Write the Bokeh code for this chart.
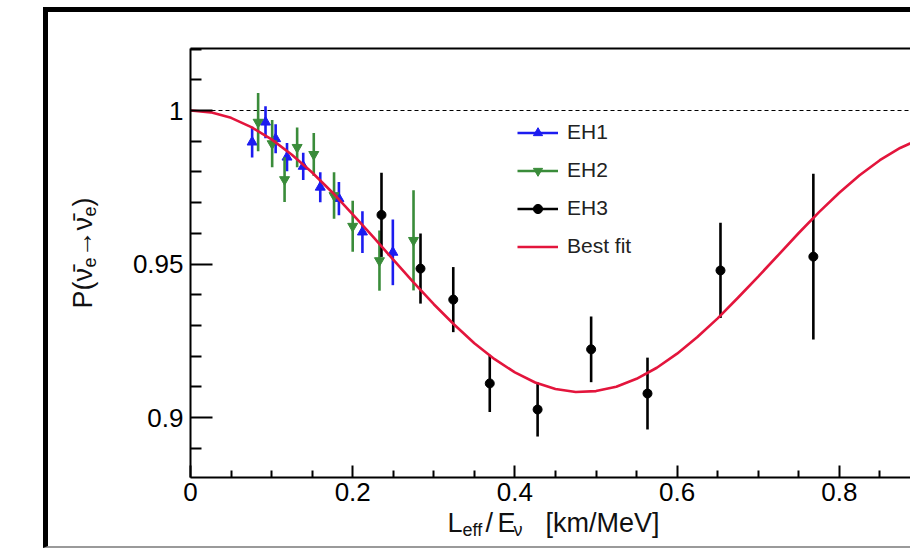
import math
from bokeh.plotting import figure
from bokeh.models import (ColumnDataSource, FixedTicker, Legend, LegendItem, Label,
                          LinearAxis)
from bokeh.embed import file_html
from bokeh.resources import INLINE

# ---------------- data ----------------
eh1_x = [0.076, 0.0925, 0.105, 0.119, 0.139, 0.160, 0.183, 0.212, 0.2495]
eh1_y = [0.9897, 0.9962, 0.9908, 0.9848, 0.9818, 0.9750, 0.9713, 0.9604, 0.9538]
eh1_err = [0.0050, 0.0052, 0.0047, 0.0046, 0.0044, 0.0049, 0.0054, 0.0068, 0.0107]

eh2_x = [0.0834, 0.1007, 0.116, 0.1315, 0.152, 0.177, 0.200, 0.233, 0.275]
eh2_y = [0.9962, 0.9892, 0.9775, 0.9880, 0.9857, 0.9723, 0.9623, 0.9511, 0.9577]
eh2_err = [0.0095, 0.0077, 0.0073, 0.0065, 0.0070, 0.0076, 0.0083, 0.0098, 0.0163]

eh3_x = [0.2355, 0.2836, 0.324, 0.369, 0.428, 0.494, 0.5635, 0.6535, 0.768]
eh3_y = [0.9660, 0.9485, 0.9384, 0.9111, 0.9026, 0.9222, 0.9078, 0.9479, 0.9524]
eh3_err = [0.0137, 0.0114, 0.0106, 0.0093, 0.0088, 0.0107, 0.0117, 0.0155, 0.0270]

fit_x = [0.0, 0.025, 0.05, 0.075, 0.1, 0.125, 0.15, 0.175, 0.2, 0.225, 0.25, 0.275,
         0.3, 0.325, 0.35, 0.375, 0.4, 0.425, 0.45, 0.475, 0.5, 0.525, 0.55, 0.575,
         0.6, 0.625, 0.65, 0.675, 0.7, 0.725, 0.75, 0.775, 0.8, 0.825, 0.85, 0.875, 0.9]
fit_y = [1.0, 0.9994, 0.9976, 0.9946, 0.9906, 0.9856, 0.9798, 0.9733, 0.9662, 0.9589,
         0.9514, 0.9440, 0.9369, 0.9303, 0.9242, 0.9190, 0.9147, 0.9114, 0.9093, 0.9083,
         0.9086, 0.9100, 0.9126, 0.9162, 0.9208, 0.9262, 0.9323, 0.9390, 0.9459, 0.9530,
         0.9601, 0.9669, 0.9732, 0.9789, 0.9838, 0.9878, 0.9908]

series_names = ["EH1", "EH2", "EH3", "Best fit"]

x_ticks = [0.0, 0.2, 0.4, 0.6, 0.8]
x_tick_labels = ["0", "0.2", "0.4", "0.6", "0.8"]
x_minor = [0.05, 0.1, 0.15, 0.25, 0.3, 0.35, 0.45, 0.5, 0.55, 0.65, 0.7, 0.75, 0.85]
y_ticks = [0.9, 0.95, 1.0]
y_tick_labels = ["0.9", "0.95", "1"]
y_minor = [0.89, 0.91, 0.92, 0.93, 0.94, 0.96, 0.97, 0.98, 0.99, 1.01, 1.02]
ref_level = 1.0
x_lo, y_lo, y_hi = 0.0, 0.8805, 1.0202     # extent of the plotting box

# ---------------- layout (page pixels) ----------------
BORDER_L, BORDER_T = 43, 7         # outer border box position on the page
BW, BB = 5, 2                      # left/top border width, bottom border width
FIG_LEFT, FIG_TOP = BORDER_L + BW, BORDER_T + BW   # canvas origin on the page
FIG_W = 910 - BORDER_L             # host box is border-box sized
FIG_H = 548 - BORDER_T
X0_PX, PX_PER_X = 190, 811.0       # page x of data x=0, pixels per unit
Y1_PX, PX_PER_Y = 110, 3070.0      # page y of data y=1, pixels per unit

def dx(px):   # page x -> data x
    return (px - X0_PX) / PX_PER_X

def dy(py):   # page y -> data y
    return 1.0 - (py - Y1_PX) / PX_PER_Y

# canvas is FIG_W x FIG_H, starting at the canvas origin
XS, XE = dx(FIG_LEFT), dx(FIG_LEFT + FIG_W)
YS, YE = dy(FIG_TOP + FIG_H), dy(FIG_TOP)

FONT = "Liberation Sans"
BLUE = "#1c1cf0"
GREEN = "#3a8c3a"
BLACK = "#000000"
RED = "#e3153c"

p = figure(width=FIG_W, height=FIG_H, x_range=(XS, XE), y_range=(YS, YE),
           output_backend="svg", toolbar_location=None,
           x_axis_location=None, y_axis_location=None,
           min_border=0, min_border_left=0, min_border_right=0,
           min_border_top=0, min_border_bottom=0,
           margin=(BORDER_T, 0, 0, BORDER_L))
p.styles = {"border-left": f"{BW}px solid black", "border-top": f"{BW}px solid black",
            "border-bottom": f"{BB}px solid #9a9a9a"}
p.xgrid.visible = False
p.ygrid.visible = False
p.outline_line_color = None
p.background_fill_color = "white"
p.border_fill_color = "white"

def style_axis(ax):
    ax.axis_line_width = 2
    ax.major_tick_out = 0
    ax.minor_tick_out = 0
    ax.major_tick_line_width = 2
    ax.minor_tick_line_width = 2
    ax.major_label_text_font = FONT
    ax.major_label_text_font_size = "26px"
    ax.major_label_text_color = "black"

xaxis = LinearAxis(fixed_location=y_lo, bounds=(x_lo, XE),
                   ticker=FixedTicker(ticks=x_ticks, minor_ticks=x_minor),
                   major_label_overrides=dict(zip(x_ticks, x_tick_labels)))
style_axis(xaxis)
xaxis.major_tick_in = 12
xaxis.minor_tick_in = 7
xaxis.major_label_standoff = 6
p.add_layout(xaxis, "below")

yaxis = LinearAxis(fixed_location=x_lo, bounds=(y_lo, y_hi),
                   ticker=FixedTicker(ticks=y_ticks, minor_ticks=y_minor),
                   major_label_overrides=dict(zip(y_ticks, y_tick_labels)))
style_axis(yaxis)
yaxis.major_tick_in = 22
yaxis.minor_tick_in = 11
yaxis.major_label_standoff = 7
p.add_layout(yaxis, "left")

# top edge of the plotting box
top = LinearAxis(fixed_location=y_hi, bounds=(x_lo, XE),
                 ticker=FixedTicker(ticks=[], minor_ticks=[]))
style_axis(top)
top.major_tick_in = 0
top.minor_tick_in = 0
p.add_layout(top, "above")

# reference line at P = 1, from x = 0 to the right edge
p.ray(x=[x_lo], y=[ref_level], length=0, angle=0, line_color="black",
      line_width=1, line_dash="4 3")

def series(xs, ys, errs, color, marker, size):
    src = ColumnDataSource(dict(x=xs, y=ys,
                                lo=[a - b for a, b in zip(ys, errs)],
                                hi=[a + b for a, b in zip(ys, errs)]))
    seg = p.segment(x0="x", y0="lo", x1="x", y1="hi", source=src,
                    line_color=color, line_width=2.6)
    sc = p.scatter("x", "y", source=src, marker=marker, size=size,
                   fill_color=color, line_color=color)
    return seg, sc

r1 = series(eh1_x, eh1_y, eh1_err, BLUE, "triangle", 10)
r2 = series(eh2_x, eh2_y, eh2_err, GREEN, "inverted_triangle", 10)
r3 = series(eh3_x, eh3_y, eh3_err, BLACK, "circle", 9)
rf = p.line(fit_x, fit_y, line_color=RED, line_width=2.6)

legend = Legend(items=[LegendItem(label=series_names[0], renderers=list(r1)),
                       LegendItem(label=series_names[1], renderers=list(r2)),
                       LegendItem(label=series_names[2], renderers=list(r3)),
                       LegendItem(label=series_names[3], renderers=[rf])],
                location=(517 - FIG_LEFT, FIG_TOP + FIG_H - 124 - 134),
                border_line_color=None, background_fill_alpha=0,
                label_text_font=FONT, label_text_font_size="21px",
                label_text_color="#222222",
                glyph_width=41, glyph_height=23, spacing=14,
                padding=0, margin=0, label_standoff=9)
p.add_layout(legend)

# x-axis title in pieces (with subscripts)
xt = [("L", 447, 522, "27px"), ("eff", 462, 529, "18px"), ("/", 485, 522, "27px"),
      ("E", 497, 522, "27px"), ("\u03bd", 513, 529, "18px"), ("[km/MeV]", 545, 522, "27px")]
for t, px, py, fs in xt:
    p.add_layout(Label(x=dx(px), y=dy(py), text=t, text_font=FONT,
                       text_font_size=fs, text_align="left",
                       text_baseline="alphabetic", text_color="#111111"))

# y-axis title in pieces, rotated
nubar = "\u03bd\u0304"
yt = [("P(" + nubar, 82, 308, "27px"), ("e", 89, 267, "18px"),
      ("\u2192" + nubar, 82, 257, "27px"), ("e", 89, 216, "18px"),
      (")", 82, 206, "27px")]
for t, px, py, fs in yt:
    p.add_layout(Label(x=dx(px), y=dy(py), text=t, text_font=FONT,
                       text_font_size=fs, text_align="left", angle=math.pi / 2,
                       text_baseline="alphabetic", text_color="#111111"))

open("out.html", "w").write(file_html(p, INLINE))
